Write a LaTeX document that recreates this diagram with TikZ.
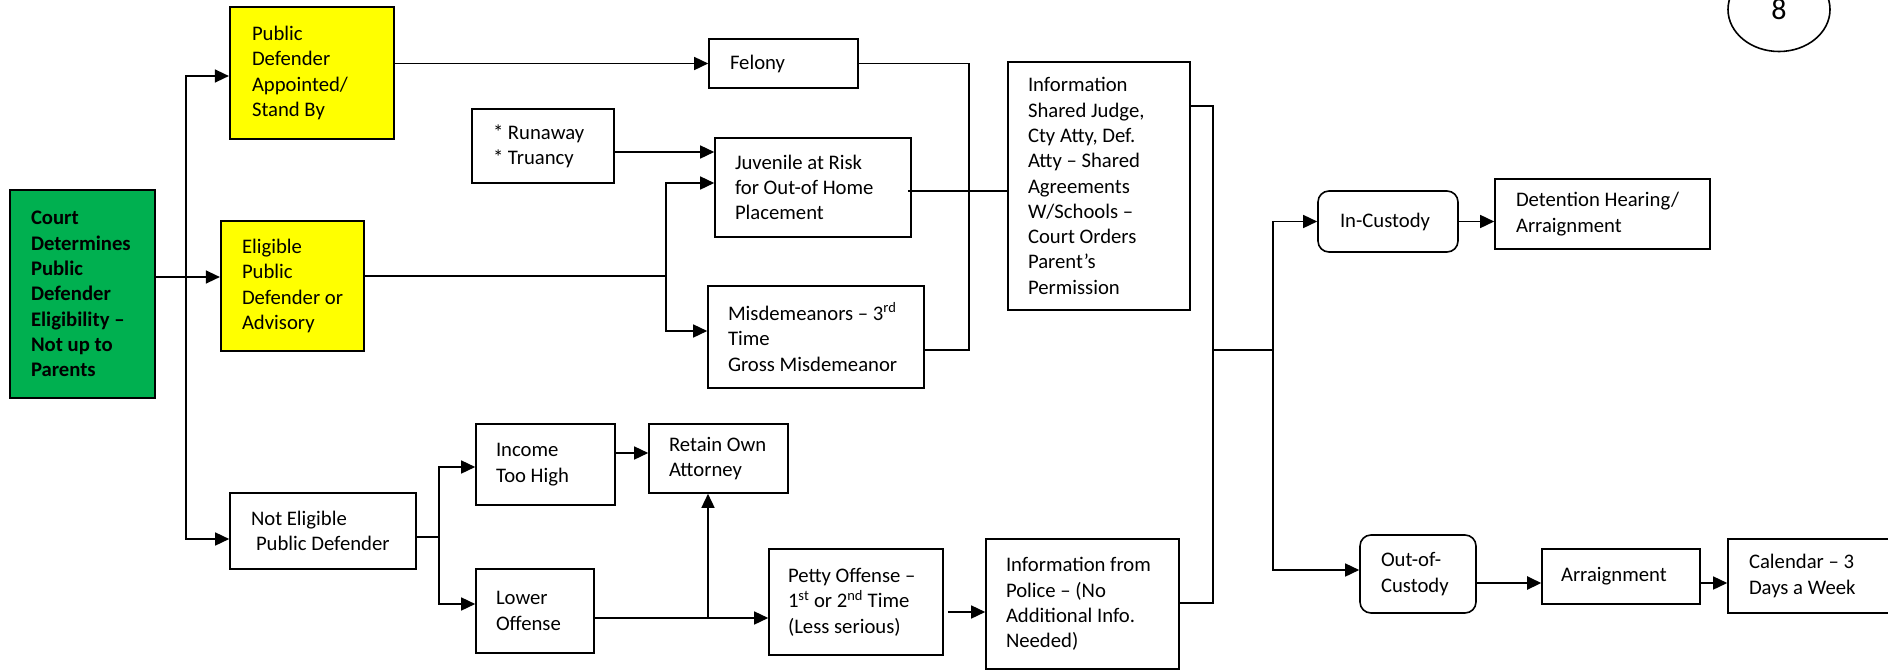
\documentclass[tikz,border=0pt]{standalone}
\usepackage{fontspec}
\setmainfont{Carlito}
\usetikzlibrary{arrows.meta,shapes.geometric}
\definecolor{grn}{RGB}{0,176,80}
\definecolor{yel}{RGB}{255,255,0}
\newcommand\boxfont{\fontsize{20.7}{25.3}\selectfont}
\newcommand\bt[3]{\hspace*{#2pt}\parbox{\dimexpr#1pt-#2pt\relax}{\raggedright #3}}
\tikzset{
  bx/.style={draw, line width=1.6pt, inner xsep=0pt, inner ysep=1pt, font=\boxfont},
  sz/.style 2 args={minimum width=#1pt, minimum height=#2pt},
  rbx/.style={bx, rounded corners=11pt},
  ln/.style={line width=1.5pt},
  ar/.style={line width=1.5pt, -{Triangle[length=14pt,width=13pt]}},
}
\begin{document}
\begin{tikzpicture}[x=1pt,y=-1pt]
\useasboundingbox (0,0) rectangle (1888,672);
% boxes
\node[bx, line width=2.2pt, fill=grn, sz={145}{208}] (court) at (82.5,294) {\bt{145}{21}{\bfseries Court\\Determines\\Public\\Defender\\Eligibility –\\Not up to\\Parents}};
\node[bx, line width=2.2pt, fill=yel, sz={164}{132}] (yel1) at (312,73) {\bt{164}{22}{Public\\Defender\\Appointed/\\Stand By}};
\node[bx, line width=2.2pt, fill=yel, sz={143}{130}] (yel2) at (292.5,286) {\bt{143}{21}{Eligible\\Public\\Defender or\\Advisory}};
\node[bx, sz={149}{49}] (felony) at (783.5,63.5) {\bt{149}{21}{Felony}};
\node[bx, sz={142}{74}] (runaway) at (543,146) {\bt{142}{21}{* Runaway\\{}* Truancy}};
\node[bx, sz={196}{99}] (juv) at (813,187.5) {\bt{196}{20}{Juvenile at Risk\\for Out-of Home\\Placement}};
\node[bx, sz={216}{102}] (misd) at (816,337) {\bt{216}{20}{Misdemeanors – 3\textsuperscript{rd}\\Time\\Gross Misdemeanor}};
\node[bx, sz={182}{248}] (infoS) at (1099,186) {\bt{182}{20}{Information\\Shared Judge,\\Cty Atty, Def.\\Atty – Shared\\Agreements\\W/Schools –\\Court Orders\\Parent’s\\Permission}};
\node[rbx, sz={140}{61}] (inc) at (1388,221.5) {\bt{140}{22}{In-Custody}};
\node[bx, sz={215}{70}] (det) at (1602.5,214) {\bt{215}{21}{Detention Hearing/\\Arraignment}};
\node[draw, ellipse, line width=1.6pt, minimum width=102pt, minimum height=84pt, inner sep=0pt, font=\fontsize{30}{32}\selectfont] (page) at (1779,9.5) {8};
\node[bx, sz={186}{76}] (noteli) at (323,531) {\bt{186}{21}{Not Eligible\\\hspace*{5pt}Public Defender}};
\node[bx, sz={139}{81}] (income) at (545.5,464.5) {\bt{139}{20}{Income\\Too High}};
\node[bx, sz={118}{84}] (lower) at (535,611) {\bt{118}{20}{Lower\\Offense}};
\node[bx, sz={139}{69}] (retain) at (718.5,458.5) {\bt{139}{20}{Retain Own\\Attorney}};
\node[bx, sz={174}{106}] (petty) at (856,602) {\bt{174}{19}{Petty Offense –\\1\textsuperscript{st} or 2\textsuperscript{nd} Time\\(Less serious)}};
\node[bx, sz={193}{130}] (police) at (1082.5,604) {\bt{193}{20}{Information from\\Police – (No\\Additional Info.\\Needed)}};
\node[rbx, sz={116}{78}] (outc) at (1418,574) {\bt{116}{21}{Out-of-\\Custody}};
\node[bx, sz={158}{55}] (arr) at (1621,576.5) {\bt{158}{19}{Arraignment}};
\node[bx, sz={172}{74}] (cal) at (1814,576) {\bt{172}{21}{Calendar – 3\\Days a Week}};
% junction coordinates
\coordinate (j1) at (186,277);
\coordinate (j1a) at (186,76);
\coordinate (j1b) at (186,539);
\coordinate (r152) at (650,152);
\coordinate (j2) at (666,276);
\coordinate (j2a) at (666,183);
\coordinate (j2b) at (666,331);
\coordinate (j3) at (969,350);
\coordinate (j4) at (960,191);
\coordinate (j5) at (1213,106);
\coordinate (j6) at (1213,603);
\coordinate (j7) at (1213,350);
\coordinate (j8) at (1273,350);
\coordinate (j9) at (1273,570);
\coordinate (j10) at (1500,583);
\coordinate (j11) at (439,537);
\coordinate (j11a) at (439,467);
\coordinate (j11b) at (439,604);
\coordinate (j12) at (630,453);
\coordinate (j13) at (708,618);
\coordinate (j14) at (960,612);
% connectors
\draw[ar] (court.east |- j1) -- (yel2.west |- j1);
\draw[ar] (j1) |- (yel1.west |- j1a);
\draw[ar] (j1) |- (noteli.west |- j1b);
\draw[ar] (yel1.east |- felony.west) -- (felony.west);
\draw[ar] (runaway.east |- r152) -- (juv.west |- r152);
\draw[ln] (yel2.east |- j2) -- (j2);
\draw[ar] (j2) |- (juv.west |- j2a);
\draw[ar] (j2) |- (misd.west |- j2b);
\draw[ln] (felony.east) -| (j3) -- (misd.east |- j3);
\draw[ln] ([xshift=-4pt]juv.east |- j4) -- (infoS.west |- j4);
\draw[ln] (infoS.east |- j5) -| (j6) -- (police.east |- j6);
\draw[ln] (j7) -- (j8);
\draw[ar] (j8) |- (inc.west);
\draw[ar] (j8) |- (outc.west |- j9);
\draw[ar] (inc.east) -- (det.west |- inc.east);
\draw[ar, line width=2.4pt] (outc.east |- j10) -- (arr.west |- j10);
\draw[ar] (arr.east |- j10) -- (cal.west |- j10);
\draw[ln] (noteli.east |- j11) -- (j11);
\draw[ar] (j11) |- (income.west |- j11a);
\draw[ar] (j11) |- (lower.west |- j11b);
\draw[ar] (income.east |- j12) -- (retain.west |- j12);
\draw[ar] (lower.east |- j13) -- (petty.west |- j13);
\draw[ar] (j13) -- (retain.south -| j13);
\draw[ar] ([xshift=4pt]petty.east |- j14) -- (police.west |- j14);
\end{tikzpicture}
\end{document}
